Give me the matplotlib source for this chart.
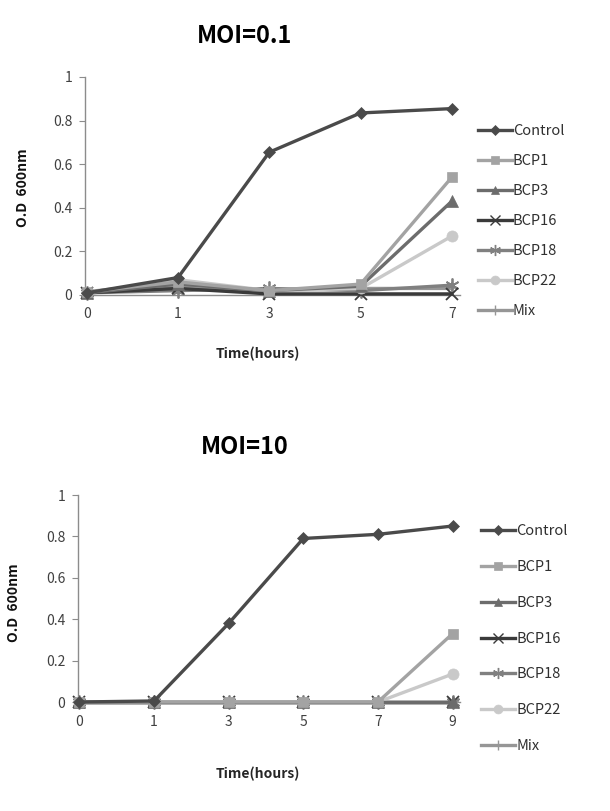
import matplotlib
matplotlib.use('Agg')
import matplotlib.pyplot as plt
from matplotlib.lines import Line2D

plt.rcParams['font.family'] = ['Noto Sans CJK KR', 'DejaVu Sans']

series = ['Control', 'BCP1', 'BCP3', 'BCP16', 'BCP18', 'BCP22', 'Mix']

# MOI = 0.1
times_a = ['0', '1', '3', '5', '7']
od_a = {
    'Control': [0.01, 0.08, 0.655, 0.835, 0.855],
    'BCP1':    [0.015, 0.06, 0.02, 0.05, 0.54],
    'BCP3':    [0.01, 0.05, 0.02, 0.04, 0.43],
    'BCP16':   [0.01, 0.03, 0.005, 0.005, 0.005],
    'BCP18':   [0.01, 0.02, 0.03, 0.02, 0.045],
    'BCP22':   [0.01, 0.07, 0.02, 0.03, 0.27],
    'Mix':     [0.01, 0.04, 0.02, 0.03, 0.03],
}

# MOI = 10
times_b = ['0', '1', '3', '5', '7', '9']
od_b = {
    'Control': [0.0, 0.005, 0.38, 0.79, 0.81, 0.85],
    'BCP1':    [0.0, 0.0, 0.0, 0.0, 0.0, 0.33],
    'BCP3':    [0.0, 0.0, 0.0, 0.0, 0.0, 0.0],
    'BCP16':   [0.0, 0.0, 0.0, 0.0, 0.0, 0.0],
    'BCP18':   [0.0, 0.0, 0.0, 0.0, 0.0, 0.0],
    'BCP22':   [0.0, 0.0, 0.0, 0.0, 0.0, 0.135],
    'Mix':     [0.0, 0.0, 0.0, 0.0, 0.0, 0.0],
}

colors = {'Control': '#4a4a4a', 'BCP1': '#a3a3a3', 'BCP3': '#6c6c6c',
          'BCP16': '#3a3a3a', 'BCP18': '#808080', 'BCP22': '#c9c9c9', 'Mix': '#969696'}
markers = {'Control': 'D', 'BCP1': 's', 'BCP3': '^', 'BCP16': 'x',
           'BCP18': (6, 2, 0), 'BCP22': 'o', 'Mix': '+'}
msizes = {'Control': 6, 'BCP1': 7, 'BCP3': 8, 'BCP16': 9, 'BCP18': 10, 'BCP22': 8, 'Mix': 9}

W, H = 610, 811
fig = plt.figure(figsize=(W / 100, H / 100), dpi=100)


def px_axes(left, top, right, bottom):
    return fig.add_axes([left / W, 1 - bottom / H, (right - left) / W, (bottom - top) / H])


def draw(ax, times, data, xright):
    x = range(len(times))
    order = ['Mix', 'BCP18', 'BCP16', 'BCP22', 'BCP3', 'BCP1', 'Control']
    for name in order:
        filled = name not in ('BCP16', 'BCP18', 'Mix')
        ax.plot(x, data[name], color=colors[name], lw=2.4, marker=markers[name], ms=msizes[name],
                mew=0.5 if filled else 1.3, mec=colors[name], clip_on=False, zorder=3)
    ax.set_xlim(-0.02, xright)
    ax.set_ylim(0, 1)
    ax.set_xticks(list(x))
    ax.set_xticklabels(times)
    ax.set_yticks([0, 0.2, 0.4, 0.6, 0.8, 1])
    ax.set_yticklabels(['0', '0.2', '0.4', '0.6', '0.8', '1'])
    for s in ('top', 'right'):
        ax.spines[s].set_visible(False)
    for s in ('left', 'bottom'):
        ax.spines[s].set_color('#8c8c8c')
        ax.spines[s].set_linewidth(1.0)
    ax.tick_params(axis='y', direction='out', length=4, color='#8c8c8c', labelsize=10,
                   labelcolor='#404040', pad=5)
    ax.tick_params(axis='x', direction='out', length=0, labelsize=10,
                   labelcolor='#404040', pad=9)


ax1 = px_axes(85, 77, 460, 295)
draw(ax1, times_a, od_a, 4.09)
ax1.set_xlabel('Time(hours)', fontsize=10, fontweight='bold', color='#262626')
ax1.xaxis.set_label_coords(0.46, -52 / 218)
ax1.set_ylabel('O.D  600nm', fontsize=10, fontweight='bold', color='#111111')
ax1.yaxis.set_label_coords(-0.147, 0.49)
fig.text(245 / W, 1 - 36 / H, 'MOI=0.1', fontsize=17, fontweight='bold', ha='center', va='center')

ax2 = px_axes(78, 495, 460, 702)
draw(ax2, times_b, od_b, 5.1)
ax2.set_xlabel('Time(hours)', fontsize=10, fontweight='bold', color='#262626')
ax2.xaxis.set_label_coords(0.47, -65 / 207)
ax2.set_ylabel('O.D  600nm', fontsize=10, fontweight='bold', color='#111111')
ax2.yaxis.set_label_coords(-0.15, 0.48)
fig.text(245 / W, 1 - 447 / H, 'MOI=10', fontsize=17, fontweight='bold', ha='center', va='center')


def handles():
    out = []
    for name in series:
        filled = name not in ('BCP16', 'BCP18', 'Mix')
        out.append(Line2D([], [], color=colors[name], lw=2.4, marker=markers[name],
                          ms=msizes[name] * 0.8, mew=0.5 if filled else 1.0,
                          mec=colors[name], label=name))
    return out


leg_kw = dict(frameon=False, fontsize=10.5, handlelength=2.3, handletextpad=0.1,
              borderaxespad=0, borderpad=0, labelcolor='#303030', loc='upper left')
fig.legend(handles=handles(), bbox_to_anchor=(478 / W, 1 - 124 / H),
           labelspacing=1.1, **leg_kw)
fig.legend(handles=handles(), bbox_to_anchor=(481 / W, 1 - 524 / H),
           labelspacing=1.5, **leg_kw)

fig.savefig('out.png', dpi=100, facecolor='white')
